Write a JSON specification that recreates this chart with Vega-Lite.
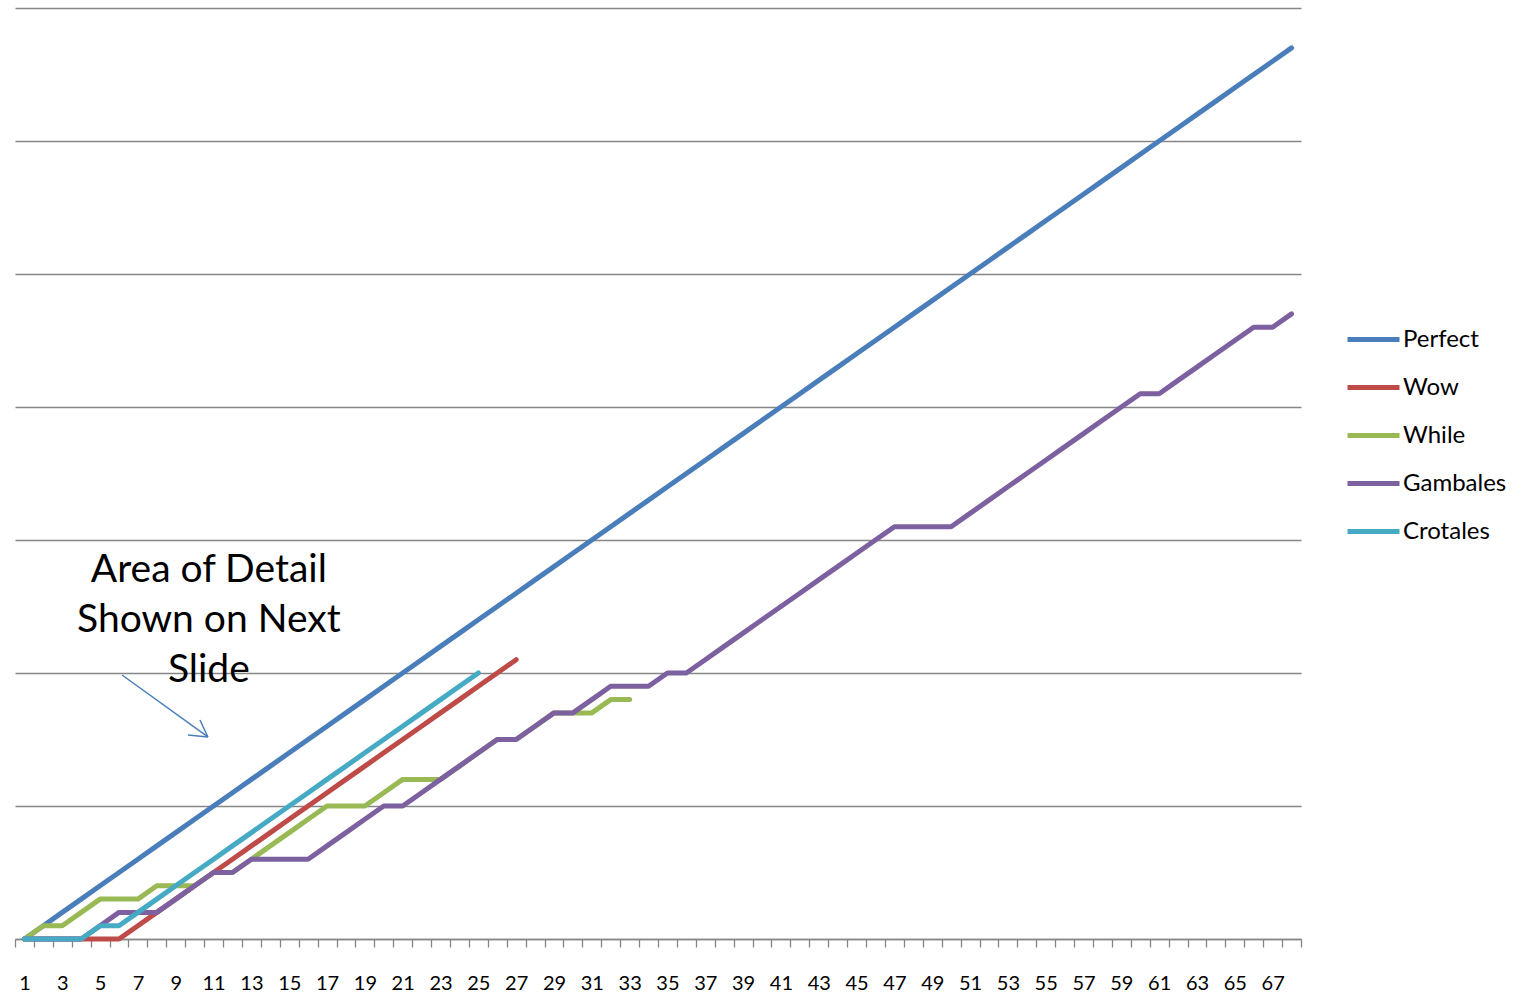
{
 "$schema": "https://vega.github.io/schema/vega-lite/v6.json",
 "width": 1286,
 "height": 931,
 "autosize": {"type": "none"},
 "padding": {"left": 15, "top": 8, "right": 222, "bottom": 56},
 "background": "white",
 "config": {"view": {"stroke": null}, "font": "Lato"},
 "datasets": {
  "series": [
   {"s":"Perfect","x":1,"y":0},{"s":"Perfect","x":2,"y":1},{"s":"Perfect","x":3,"y":2},{"s":"Perfect","x":4,"y":3},{"s":"Perfect","x":5,"y":4},{"s":"Perfect","x":6,"y":5},{"s":"Perfect","x":7,"y":6},{"s":"Perfect","x":8,"y":7},{"s":"Perfect","x":9,"y":8},{"s":"Perfect","x":10,"y":9},
   {"s":"Perfect","x":11,"y":10},{"s":"Perfect","x":12,"y":11},{"s":"Perfect","x":13,"y":12},{"s":"Perfect","x":14,"y":13},{"s":"Perfect","x":15,"y":14},{"s":"Perfect","x":16,"y":15},{"s":"Perfect","x":17,"y":16},{"s":"Perfect","x":18,"y":17},{"s":"Perfect","x":19,"y":18},{"s":"Perfect","x":20,"y":19},
   {"s":"Perfect","x":21,"y":20},{"s":"Perfect","x":22,"y":21},{"s":"Perfect","x":23,"y":22},{"s":"Perfect","x":24,"y":23},{"s":"Perfect","x":25,"y":24},{"s":"Perfect","x":26,"y":25},{"s":"Perfect","x":27,"y":26},{"s":"Perfect","x":28,"y":27},{"s":"Perfect","x":29,"y":28},{"s":"Perfect","x":30,"y":29},
   {"s":"Perfect","x":31,"y":30},{"s":"Perfect","x":32,"y":31},{"s":"Perfect","x":33,"y":32},{"s":"Perfect","x":34,"y":33},{"s":"Perfect","x":35,"y":34},{"s":"Perfect","x":36,"y":35},{"s":"Perfect","x":37,"y":36},{"s":"Perfect","x":38,"y":37},{"s":"Perfect","x":39,"y":38},{"s":"Perfect","x":40,"y":39},
   {"s":"Perfect","x":41,"y":40},{"s":"Perfect","x":42,"y":41},{"s":"Perfect","x":43,"y":42},{"s":"Perfect","x":44,"y":43},{"s":"Perfect","x":45,"y":44},{"s":"Perfect","x":46,"y":45},{"s":"Perfect","x":47,"y":46},{"s":"Perfect","x":48,"y":47},{"s":"Perfect","x":49,"y":48},{"s":"Perfect","x":50,"y":49},
   {"s":"Perfect","x":51,"y":50},{"s":"Perfect","x":52,"y":51},{"s":"Perfect","x":53,"y":52},{"s":"Perfect","x":54,"y":53},{"s":"Perfect","x":55,"y":54},{"s":"Perfect","x":56,"y":55},{"s":"Perfect","x":57,"y":56},{"s":"Perfect","x":58,"y":57},{"s":"Perfect","x":59,"y":58},{"s":"Perfect","x":60,"y":59},
   {"s":"Perfect","x":61,"y":60},{"s":"Perfect","x":62,"y":61},{"s":"Perfect","x":63,"y":62},{"s":"Perfect","x":64,"y":63},{"s":"Perfect","x":65,"y":64},{"s":"Perfect","x":66,"y":65},{"s":"Perfect","x":67,"y":66},{"s":"Perfect","x":68,"y":67},
   {"s":"Wow","x":1,"y":0},{"s":"Wow","x":2,"y":0},{"s":"Wow","x":3,"y":0},{"s":"Wow","x":4,"y":0},{"s":"Wow","x":5,"y":0},{"s":"Wow","x":6,"y":0},{"s":"Wow","x":7,"y":1},{"s":"Wow","x":8,"y":2},{"s":"Wow","x":9,"y":3},{"s":"Wow","x":10,"y":4},
   {"s":"Wow","x":11,"y":5},{"s":"Wow","x":12,"y":6},{"s":"Wow","x":13,"y":7},{"s":"Wow","x":14,"y":8},{"s":"Wow","x":15,"y":9},{"s":"Wow","x":16,"y":10},{"s":"Wow","x":17,"y":11},{"s":"Wow","x":18,"y":12},{"s":"Wow","x":19,"y":13},{"s":"Wow","x":20,"y":14},
   {"s":"Wow","x":21,"y":15},{"s":"Wow","x":22,"y":16},{"s":"Wow","x":23,"y":17},{"s":"Wow","x":24,"y":18},{"s":"Wow","x":25,"y":19},{"s":"Wow","x":26,"y":20},{"s":"Wow","x":27,"y":21},
   {"s":"While","x":1,"y":0},{"s":"While","x":2,"y":1},{"s":"While","x":3,"y":1},{"s":"While","x":4,"y":2},{"s":"While","x":5,"y":3},{"s":"While","x":6,"y":3},{"s":"While","x":7,"y":3},{"s":"While","x":8,"y":4},{"s":"While","x":9,"y":4},{"s":"While","x":10,"y":4},
   {"s":"While","x":11,"y":5},{"s":"While","x":12,"y":5},{"s":"While","x":13,"y":6},{"s":"While","x":14,"y":7},{"s":"While","x":15,"y":8},{"s":"While","x":16,"y":9},{"s":"While","x":17,"y":10},{"s":"While","x":18,"y":10},{"s":"While","x":19,"y":10},{"s":"While","x":20,"y":11},
   {"s":"While","x":21,"y":12},{"s":"While","x":22,"y":12},{"s":"While","x":23,"y":12},{"s":"While","x":24,"y":13},{"s":"While","x":25,"y":14},{"s":"While","x":26,"y":15},{"s":"While","x":27,"y":15},{"s":"While","x":28,"y":16},{"s":"While","x":29,"y":17},{"s":"While","x":30,"y":17},
   {"s":"While","x":31,"y":17},{"s":"While","x":32,"y":18},{"s":"While","x":33,"y":18},
   {"s":"Gambales","x":1,"y":0},{"s":"Gambales","x":2,"y":0},{"s":"Gambales","x":3,"y":0},{"s":"Gambales","x":4,"y":0},{"s":"Gambales","x":5,"y":1},{"s":"Gambales","x":6,"y":2},{"s":"Gambales","x":7,"y":2},{"s":"Gambales","x":8,"y":2},{"s":"Gambales","x":9,"y":3},{"s":"Gambales","x":10,"y":4},
   {"s":"Gambales","x":11,"y":5},{"s":"Gambales","x":12,"y":5},{"s":"Gambales","x":13,"y":6},{"s":"Gambales","x":14,"y":6},{"s":"Gambales","x":15,"y":6},{"s":"Gambales","x":16,"y":6},{"s":"Gambales","x":17,"y":7},{"s":"Gambales","x":18,"y":8},{"s":"Gambales","x":19,"y":9},{"s":"Gambales","x":20,"y":10},
   {"s":"Gambales","x":21,"y":10},{"s":"Gambales","x":22,"y":11},{"s":"Gambales","x":23,"y":12},{"s":"Gambales","x":24,"y":13},{"s":"Gambales","x":25,"y":14},{"s":"Gambales","x":26,"y":15},{"s":"Gambales","x":27,"y":15},{"s":"Gambales","x":28,"y":16},{"s":"Gambales","x":29,"y":17},{"s":"Gambales","x":30,"y":17},
   {"s":"Gambales","x":31,"y":18},{"s":"Gambales","x":32,"y":19},{"s":"Gambales","x":33,"y":19},{"s":"Gambales","x":34,"y":19},{"s":"Gambales","x":35,"y":20},{"s":"Gambales","x":36,"y":20},{"s":"Gambales","x":37,"y":21},{"s":"Gambales","x":38,"y":22},{"s":"Gambales","x":39,"y":23},{"s":"Gambales","x":40,"y":24},
   {"s":"Gambales","x":41,"y":25},{"s":"Gambales","x":42,"y":26},{"s":"Gambales","x":43,"y":27},{"s":"Gambales","x":44,"y":28},{"s":"Gambales","x":45,"y":29},{"s":"Gambales","x":46,"y":30},{"s":"Gambales","x":47,"y":31},{"s":"Gambales","x":48,"y":31},{"s":"Gambales","x":49,"y":31},{"s":"Gambales","x":50,"y":31},
   {"s":"Gambales","x":51,"y":32},{"s":"Gambales","x":52,"y":33},{"s":"Gambales","x":53,"y":34},{"s":"Gambales","x":54,"y":35},{"s":"Gambales","x":55,"y":36},{"s":"Gambales","x":56,"y":37},{"s":"Gambales","x":57,"y":38},{"s":"Gambales","x":58,"y":39},{"s":"Gambales","x":59,"y":40},{"s":"Gambales","x":60,"y":41},
   {"s":"Gambales","x":61,"y":41},{"s":"Gambales","x":62,"y":42},{"s":"Gambales","x":63,"y":43},{"s":"Gambales","x":64,"y":44},{"s":"Gambales","x":65,"y":45},{"s":"Gambales","x":66,"y":46},{"s":"Gambales","x":67,"y":46},{"s":"Gambales","x":68,"y":47},
   {"s":"Crotales","x":1,"y":0},{"s":"Crotales","x":2,"y":0},{"s":"Crotales","x":3,"y":0},{"s":"Crotales","x":4,"y":0},{"s":"Crotales","x":5,"y":1},{"s":"Crotales","x":6,"y":1},{"s":"Crotales","x":7,"y":2},{"s":"Crotales","x":8,"y":3},{"s":"Crotales","x":9,"y":4},{"s":"Crotales","x":10,"y":5},
   {"s":"Crotales","x":11,"y":6},{"s":"Crotales","x":12,"y":7},{"s":"Crotales","x":13,"y":8},{"s":"Crotales","x":14,"y":9},{"s":"Crotales","x":15,"y":10},{"s":"Crotales","x":16,"y":11},{"s":"Crotales","x":17,"y":12},{"s":"Crotales","x":18,"y":13},{"s":"Crotales","x":19,"y":14},{"s":"Crotales","x":20,"y":15},
   {"s":"Crotales","x":21,"y":16},{"s":"Crotales","x":22,"y":17},{"s":"Crotales","x":23,"y":18},{"s":"Crotales","x":24,"y":19},{"s":"Crotales","x":25,"y":20}
  ],
  "note": [{"note": "Area of Detail\nShown on Next\nSlide", "x": 10.75, "y": 26.85}],
  "arrow": [
   {"x": 6.16, "y": 19.85, "x2": 10.70, "y2": 15.19},
   {"x": 9.65, "y": 15.34, "x2": 10.70, "y2": 15.19},
   {"x": 10.28, "y": 16.47, "x2": 10.70, "y2": 15.19}
  ]
 },
 "layer": [
  {
   "data": {"name": "series"},
   "mark": {"type": "line", "strokeWidth": 5, "strokeCap": "round", "strokeJoin": "round"},
   "encoding": {
    "x": {
     "field": "x", "type": "quantitative",
     "scale": {"domain": [0.5, 68.5], "nice": false, "zero": false},
     "axis": {
      "title": null,
      "tickCount": 200,
      "values": [0.5,1.5,2.5,3.5,4.5,5.5,6.5,7.5,8.5,9.5,10.5,11.5,12.5,13.5,14.5,15.5,16.5,17.5,18.5,19.5,20.5,21.5,22.5,23.5,24.5,25.5,26.5,27.5,28.5,29.5,30.5,31.5,32.5,33.5,34.5,35.5,36.5,37.5,38.5,39.5,40.5,41.5,42.5,43.5,44.5,45.5,46.5,47.5,48.5,49.5,50.5,51.5,52.5,53.5,54.5,55.5,56.5,57.5,58.5,59.5,60.5,61.5,62.5,63.5,64.5,65.5,66.5,67.5,68.5],
      "labelExpr": "((datum.value + 0.5) % 2 == 1 && datum.value < 68) ? format(datum.value + 0.5, 'd') : ''",
      "labelOffset": 9.46,
      "labelFlush": false,
      "labelOverlap": false,
      "labelBound": false,
      "labelFont": "Lato",
      "labelFontSize": 20,
      "labelColor": "#000000",
      "labelPadding": 26,
      "grid": false,
      "domainColor": "#868686",
      "domainWidth": 1.3,
      "tickColor": "#868686",
      "tickWidth": 1.3,
      "tickSize": 8
     }
    },
    "y": {
     "field": "y", "type": "quantitative",
     "scale": {"domain": [0, 70], "nice": false},
     "axis": {
      "title": null,
      "values": [0,10,20,30,40,50,60,70],
      "labels": false,
      "ticks": false,
      "domain": false,
      "grid": true,
      "gridColor": "#868686",
      "gridWidth": 1.3
     }
    },
    "color": {
     "field": "s", "type": "nominal",
     "scale": {"domain": ["Perfect","Wow","While","Gambales","Crotales"], "range": ["#4A7EBB","#BE4B48","#98B954","#7D60A0","#46AAC5"]},
     "legend": {
      "title": null,
      "orient": "none",
      "legendX": 1330,
      "legendY": 303,
      "padding": 0,
      "symbolType": "stroke",
      "symbolSize": 2704,
      "symbolStrokeWidth": 5,
      "labelFont": "Lato",
      "labelFontSize": 24,
      "labelColor": "#000000",
      "labelOffset": 1,
      "rowPadding": 7
     }
    }
   }
  },
  {
   "data": {"name": "note"},
   "mark": {"type": "text", "font": "Lato", "fontSize": 39, "lineBreak": "\n", "lineHeight": 50, "align": "center", "baseline": "alphabetic", "color": "#000000"},
   "encoding": {
    "x": {"field": "x", "type": "quantitative"},
    "y": {"field": "y", "type": "quantitative"},
    "text": {"field": "note"}
   }
  },
  {
   "data": {"name": "arrow"},
   "mark": {"type": "rule", "color": "#4A7EBB", "strokeWidth": 1.5},
   "encoding": {
    "x": {"field": "x", "type": "quantitative"},
    "y": {"field": "y", "type": "quantitative"},
    "x2": {"field": "x2"},
    "y2": {"field": "y2"}
   }
  }
 ]
}
